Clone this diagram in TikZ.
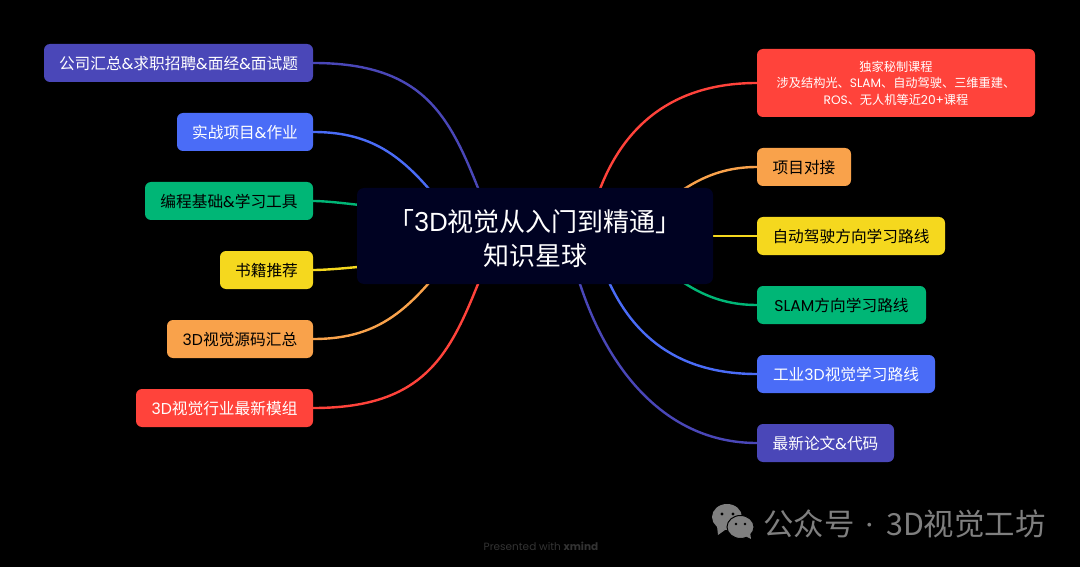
\documentclass[tikz,border=0pt]{standalone}
\usepackage{fontspec}
\setmainfont{Noto Sans CJK SC}
\newfontfamily\ltnfont{Poppins}
\newcommand{\ltn}[1]{{\ltnfont #1}}
\usetikzlibrary{backgrounds}
\definecolor{indigoc}{HTML}{4A47B8}
\definecolor{bluec}{HTML}{4A6CF7}
\definecolor{greenc}{HTML}{00B676}
\definecolor{yellowc}{HTML}{F5D81E}
\definecolor{orangec}{HTML}{F9A24B}
\definecolor{redc}{HTML}{FF433B}
\definecolor{hubc}{HTML}{000222}
\definecolor{markc}{HTML}{7F7F7F}
\begin{document}
\begin{tikzpicture}[x=1pt,y=-1pt]
      \tikzstyle{topic}=[rounded corners=6pt,inner sep=0pt,minimum height=38pt,text height=14pt,text depth=1.5pt,font=\fontsize{15.7}{20}\selectfont]
      \tikzstyle{edge}=[draw,line width=2.4pt]
      \useasboundingbox (0,0) rectangle (1080,567);
      \node[fill=hubc,rounded corners=7pt,text=white,align=center,minimum width=356pt,minimum height=96pt,inner sep=0pt,font=\fontsize{26}{34}\selectfont] (hub) at (535,236) {\rule{0pt}{28pt}「\ltn{3D}视觉从入门到精通」\\知识星球};
      \coordinate (hubL) at (497,236);
      \coordinate (hubM) at (465,236);
      \coordinate (hubG) at (375,207);
      \coordinate (hubY) at (375,265);
      \coordinate (hubR) at (593,210);
      \coordinate (hubS) at (655,210);
      \coordinate (hubT) at (655,262);
      \coordinate (hubB) at (603,268);
      \coordinate (hubI) at (574,264);
      \node[topic,fill=indigoc,text=white,minimum width=269pt] (L1) at (178.5,63) {公司汇总\ltn{\&}求职招聘\ltn{\&}面经\ltn{\&}面试题};
      \node[topic,fill=bluec,text=white,minimum width=136pt] (L2) at (245,132) {实战项目\ltn{\&}作业};
      \node[topic,fill=greenc,text=black,minimum width=168pt] (L3) at (229,201) {编程基础\ltn{\&}学习工具};
      \node[topic,fill=yellowc,text=black,minimum width=93pt] (L4) at (266.5,270) {书籍推荐};
      \node[topic,fill=orangec,text=black,minimum width=146pt] (L5) at (240,339) {\ltn{3D}视觉源码汇总};
      \node[topic,fill=redc,text=white,minimum width=177pt] (L6) at (224.5,408) {\ltn{3D}视觉行业最新模组};
      \node[rounded corners=6pt,inner sep=0pt,fill=redc,text=white,minimum width=278pt,minimum height=68pt,align=center,font=\fontsize{12.2}{16.5}\selectfont] (R1) at (896,83) {独家秘制课程\\涉及结构光、\ltn{SLAM}、自动驾驶、三维重建、\\\ltn{ROS}、无人机等近\ltn{20+}课程};
      \node[topic,fill=orangec,text=black,minimum width=94pt] (R2) at (804,167) {项目对接};
      \node[topic,fill=yellowc,text=black,minimum width=188pt] (R3) at (851,236) {自动驾驶方向学习路线};
      \node[topic,fill=greenc,text=black,minimum width=169pt] (R4) at (841.5,305) {\ltn{SLAM}方向学习路线};
      \node[topic,fill=bluec,text=white,minimum width=178pt] (R5) at (846,374) {工业\ltn{3D}视觉学习路线};
      \node[topic,fill=indigoc,text=white,minimum width=137pt] (R6) at (825.5,443) {最新论文\ltn{\&}代码};
      \node[text=markc,inner sep=0pt,font=\fontsize{30.4}{34}\selectfont] (mark) at (904.5,524) {公众号\hspace{12pt}\ltn{·}\hspace{13pt}3D视觉工坊};
      \node[text=white!20!black,inner sep=0pt,font=\fontsize{10.5}{13}\selectfont] (credit) at (541,546) {\ltnfont Presented with \textbf{xmind}};
      \begin{scope}[on background layer]
      \fill[black] (0,0) rectangle (1080,567);
      \path[edge,indigoc] (L1.east) .. controls +(130,0) and +(-41,-100) .. (hubL);
      \path[edge,bluec] (L2.east) .. controls +(70,0) and +(-50,-70) .. (hubM);
      \path[edge,greenc] (L3.east) .. controls +(15,0) and +(-15,-2) .. (hubG);
      \path[edge,yellowc] (L4.east) .. controls +(15,0) and +(-15,2) .. (hubY);
      \path[edge,orangec] (L5.east) .. controls +(70,0) and +(-50,70) .. (hubM);
      \path[edge,redc] (L6.east) .. controls +(130,0) and +(-41,100) .. (hubL);
      \path[edge,redc] (R1.west) .. controls +(-97,0) and +(20,-70) .. (hubR);
      \path[edge,orangec] (R2.west) .. controls +(-50,0) and +(25,-18) .. (hubS);
      \path[edge,yellowc] (R3.west) -- (hub.east);
      \path[edge,greenc] (R4.west) .. controls +(-50,0) and +(25,18) .. (hubT);
      \path[edge,bluec] (R5.west) .. controls +(-77,0) and +(27,70) .. (hubB);
      \path[edge,indigoc] (R6.west) .. controls +(-97,0) and +(26,96) .. (hubI);
      \end{scope}
      % chat bubbles beside the account name
      \fill[markc] (727,517) ellipse (15pt and 13pt);
      \fill[markc] (717,526) -- (718,535) -- (725,530) -- cycle;
      \fill[markc,draw=black,line width=1pt] (740.5,527) ellipse (13.5pt and 11.5pt);
      \fill[markc] (745,536) -- (751,539) -- (750,532) -- cycle;
      \foreach \x/\y/\r in {722/514/1.7,733/514/1.7,736/524/1.4,745/524/1.4} \fill[black] (\x,\y) circle (\r pt);
    \end{tikzpicture}
\end{document}
